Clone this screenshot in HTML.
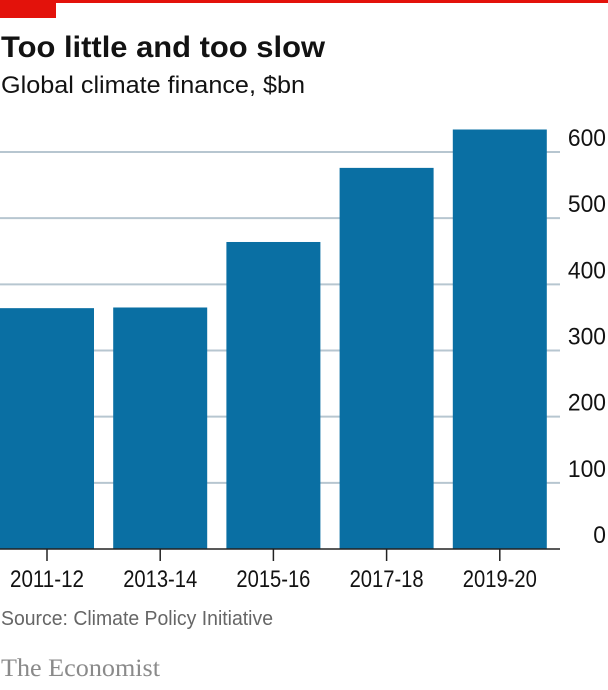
<!DOCTYPE html>
<html><head><meta charset="utf-8"><style>
body{margin:0;background:#fff;width:608px;height:685px;overflow:hidden;font-family:"Liberation Sans",sans-serif;}
</style></head><body>
<svg width="608" height="685" xmlns="http://www.w3.org/2000/svg">
<rect x="0" y="0" width="608" height="3" fill="#e3120b"/>
<rect x="0" y="0" width="56" height="18" fill="#e3120b"/>
<text x="1" y="57" font-size="30" font-weight="bold" fill="#121212" textLength="324" lengthAdjust="spacingAndGlyphs">Too little and too slow</text>
<text x="1" y="93" font-size="24" fill="#121212" textLength="304" lengthAdjust="spacingAndGlyphs">Global climate finance, $bn</text>
<g id="grid"></g>
<g id="bars"></g>
<g id="xaxis"></g>
<text x="1" y="625" font-size="20" fill="#666" textLength="272" lengthAdjust="spacingAndGlyphs">Source: Climate Policy Initiative</text>
<text x="1" y="676" font-size="25" fill="#8a8a8a" font-family="Liberation Serif,serif" textLength="159" lengthAdjust="spacingAndGlyphs">The Economist</text>
</svg>
<script>
const categories=["2011-12","2013-14","2015-16","2017-18","2019-20"];
const values=[364,365,464,576,634];
const yTicks=[0,100,200,300,400,500,600];
const NS="http://www.w3.org/2000/svg";
const y0=549, pxPer=(549-152)/600;
function y(v){return y0-v*pxPer;}
function xc(i){return 47+i*113.2;}
function mk(tag,attrs,parent){const e=document.createElementNS(NS,tag);for(const k in attrs)e.setAttribute(k,attrs[k]);parent.appendChild(e);return e;}
const g=document.getElementById('grid');
yTicks.forEach(t=>{
  if(t>0){const l=mk('line',{x1:0,x2:560,y1:y(t),y2:y(t),stroke:'#b7c6d0','stroke-width':2},g);
  
  }
  const s=String(t);
  const tx=mk('text',{x:606,y:y(t)-6,'font-size':24,'text-anchor':'end',fill:'#121212',textLength:s.length*12.7,lengthAdjust:'spacingAndGlyphs'},g);
  tx.textContent=s;
  
  
});
const b=document.getElementById('bars');
values.forEach((v,i)=>{
  const r=mk('rect',{x:xc(i)-47,y:y(v),width:94,height:y0-y(v),fill:'#0a6fa3'},b);
  
  
});
const xa=document.getElementById('xaxis');
const al=mk('line',{x1:0,x2:560,y1:y0,y2:y0,stroke:'#222','stroke-width':1.5},xa);


categories.forEach((c,i)=>{
  const tk=mk('line',{x1:xc(i),x2:xc(i),y1:y0,y2:y0+12,stroke:'#222','stroke-width':1.5},xa);
  
  
  const t=mk('text',{x:xc(i),y:587,'font-size':24,'text-anchor':'middle',fill:'#121212',textLength:74,lengthAdjust:'spacingAndGlyphs'},xa);
  t.textContent=c;
  
  
});
</script>
</body></html>
